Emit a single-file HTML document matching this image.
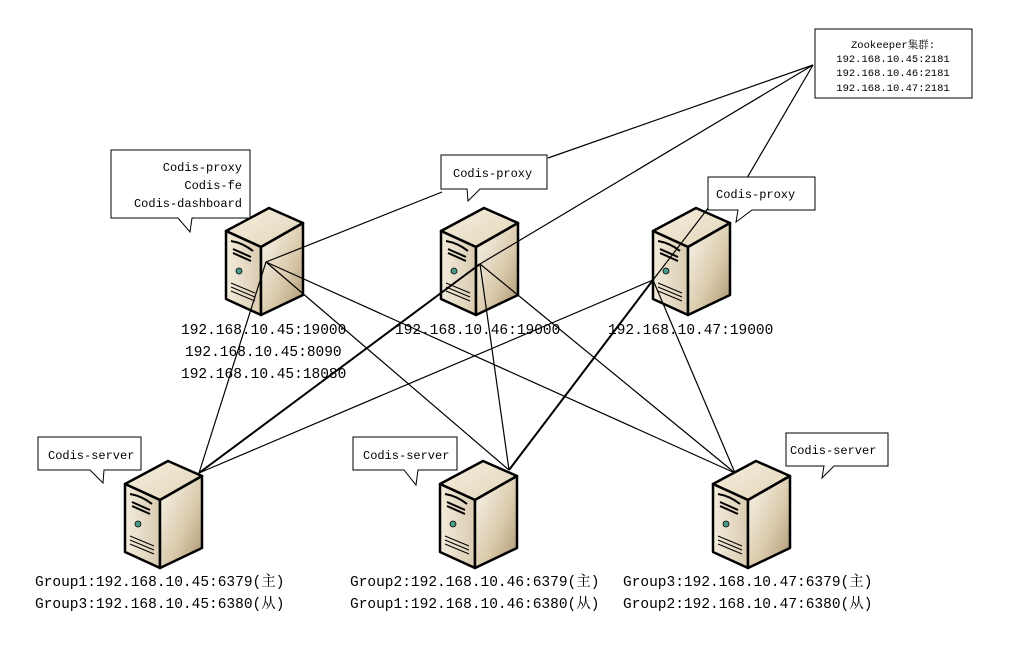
<!DOCTYPE html>
<html><head><meta charset="utf-8"><style>
body{margin:0;background:#fff;width:1009px;height:649px;overflow:hidden}
svg text{font-family:"Liberation Mono","Noto Serif CJK SC",monospace}
</style></head><body>
<svg width="1009" height="649" viewBox="0 0 1009 649" xmlns="http://www.w3.org/2000/svg">
<defs>
<linearGradient id="fr" x1="0" x2="1" y1="0" y2="0"><stop offset="0" stop-color="#f3ecdc"/><stop offset="1" stop-color="#d9cbb0"/></linearGradient>
<linearGradient id="sd" x1="0" x2="1" y1="0" y2="1"><stop offset="0" stop-color="#fbf8f1"/><stop offset="0.6" stop-color="#d8c8a8"/><stop offset="1" stop-color="#a89270"/></linearGradient>
<linearGradient id="tp" x1="0" x2="1" y1="0" y2="1"><stop offset="0" stop-color="#f6efe0"/><stop offset="1" stop-color="#e2d4b8"/></linearGradient>
<g id="srv">
<path d="M1,24 L44,1 L78,16 L36,40 Z" fill="url(#tp)" stroke="#000" stroke-width="2.5" stroke-linejoin="round"/>
<path d="M1,24 L36,40 L36,108 L1,92 Z" fill="url(#fr)" stroke="#000" stroke-width="2.5" stroke-linejoin="round"/>
<path d="M36,40 L78,16 L78,88 L36,108 Z" fill="url(#sd)" stroke="#000" stroke-width="2.5" stroke-linejoin="round"/>
<path d="M6,34 Q18,36 28,44 M8,42 L26,50 M8,46 L26,54" stroke="#000" stroke-width="2" fill="none"/>
<circle cx="14" cy="64" r="3" fill="#4a9a8a" stroke="#000" stroke-width="0.8"/>
<path d="M6,76 L30,86 M6,80 L30,90 M6,84 L30,94" stroke="#000" stroke-width="1" fill="none"/>
</g>
</defs>
<use href="#srv" x="225" y="207"/>
<use href="#srv" x="440" y="207"/>
<use href="#srv" x="652" y="207"/>
<use href="#srv" x="124" y="460"/>
<use href="#srv" x="439" y="460"/>
<use href="#srv" x="712" y="460"/>
<g stroke="#000" stroke-width="1.2" fill="none">
<line x1="813" y1="65" x2="548" y2="158"/>
<line x1="813" y1="65" x2="480" y2="264"/>
<line x1="813" y1="65" x2="730" y2="207"/>
<line x1="266" y1="262" x2="442" y2="192"/>
<line x1="266" y1="262" x2="199" y2="473"/>
<line x1="266" y1="262" x2="509" y2="470"/>
<line x1="266" y1="262" x2="735" y2="473"/>
<line x1="480" y1="264" x2="199" y2="473" stroke-width="2"/>
<line x1="480" y1="264" x2="509" y2="470"/>
<line x1="480" y1="264" x2="735" y2="473"/>
<line x1="653" y1="280" x2="199" y2="473"/>
<line x1="653" y1="280" x2="509" y2="470" stroke-width="2"/>
<line x1="653" y1="280" x2="735" y2="473"/>
<line x1="653" y1="280" x2="712" y2="203"/>
</g>
<g stroke="#000" stroke-width="1" fill="#fff">
<rect x="815" y="29" width="157" height="69"/>
<path d="M111,150 H250 V218 H192 L190,232 L178,218 H111 Z"/>
<path d="M441,155 H547 V189 H480 L468,201 L467,189 H441 Z"/>
<path d="M708,177 H815 V210 H752 L736,222 L738,210 H708 Z"/>
<path d="M38,437 H141 V470 H104 L103,483 L90,470 H38 Z"/>
<path d="M353,437 H457 V470 H418 L416,485 L404,470 H353 Z"/>
<path d="M786,433 H888 V466 H834 L822,478 L824,466 H786 Z"/>
</g>
<g font-size="12" fill="#000">
<text x="893" y="48" text-anchor="middle" font-size="10.5">Zookeeper集群:</text>
<text x="893" y="62" text-anchor="middle" font-size="10.5">192.168.10.45:2181</text>
<text x="893" y="76" text-anchor="middle" font-size="10.5">192.168.10.46:2181</text>
<text x="893" y="91" text-anchor="middle" font-size="10.5">192.168.10.47:2181</text>
<text x="242" y="171" text-anchor="end">Codis-proxy</text>
<text x="242" y="189" text-anchor="end">Codis-fe</text>
<text x="242" y="207" text-anchor="end">Codis-dashboard</text>
<text x="453" y="177">Codis-proxy</text>
<text x="716" y="198">Codis-proxy</text>
<text x="48" y="459">Codis-server</text>
<text x="363" y="459">Codis-server</text>
<text x="790" y="454">Codis-server</text>
</g>
<g font-size="14.5" fill="#000">
<text x="181" y="334">192.168.10.45:19000</text>
<text x="185" y="356">192.168.10.45:8090</text>
<text x="181" y="378">192.168.10.45:18080</text>
<text x="395" y="334">192.168.10.46:19000</text>
<text x="608" y="334">192.168.10.47:19000</text>
<text x="35" y="586">Group1:192.168.10.45:6379(主)</text>
<text x="35" y="608">Group3:192.168.10.45:6380(从)</text>
<text x="350" y="586">Group2:192.168.10.46:6379(主)</text>
<text x="350" y="608">Group1:192.168.10.46:6380(从)</text>
<text x="623" y="586">Group3:192.168.10.47:6379(主)</text>
<text x="623" y="608">Group2:192.168.10.47:6380(从)</text>
</g>
</svg>
</body></html>
